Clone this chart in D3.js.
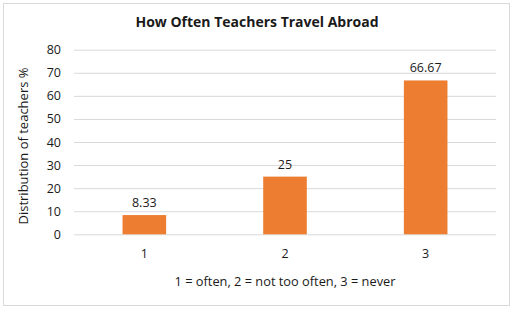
<!DOCTYPE html>
<html>
<head>
<meta charset="utf-8">
<script src="https://cdn.jsdelivr.net/npm/d3@7"></script>
<style>
	body { margin: 0; background: #fff; }
	text { font-family: "Open Sans", "Noto Sans", sans-serif; fill: #1a1a1a; }
</style>
</head>
<body>
<script>
const categories = ["1", "2", "3"];
const values = [8.33, 25, 66.67];
const valueLabels = ["8.33", "25", "66.67"];
const yTicks = [0, 10, 20, 30, 40, 50, 60, 70, 80];

function constructChart() {
	const width = 514;
	const height = 310;
	const margin = {top: 50, right: 18, bottom: 76, left: 74};

	const svg = d3.select("body")
		.append("svg")
		.attr("width", width)
		.attr("height", height);

	// chart border
	svg.append("rect")
		.attr("x", 3.5)
		.attr("y", 3.5)
		.attr("width", width - 8)
		.attr("height", height - 8)
		.attr("fill", "#fff")
		.attr("stroke", "#d9d9d9");

	const scaleX = d3.scaleBand()
		.domain(categories)
		.range([margin.left, width - margin.right])
		.paddingInner(0.69)
		.paddingOuter(0.345);

	const scaleY = d3.scaleLinear()
		.domain([0, 80])
		.range([height - margin.bottom + 0.3, margin.top - 0.3]);

	const axisY = d3.axisLeft(scaleY)
		.tickValues(yTicks)
		.tickSize(-(width - margin.left - margin.right))
		.tickPadding(13);

	const gY = svg.append("g")
		.attr("class", "scale-y")
		.attr("transform", `translate(${margin.left},0)`)
		.call(axisY);
	gY.select(".domain").remove();
	gY.selectAll("line").attr("stroke", "#d9d9d9").attr("stroke-width", 1);
	gY.selectAll("text").style("font-size", "12.5px").attr("fill", "#1a1a1a");

	const axisX = d3.axisBottom(scaleX).tickSize(0).tickPadding(15);
	const gX = svg.append("g")
		.attr("class", "scale-x")
		.attr("transform", `translate(0,${scaleY(0)})`)
		.call(axisX);
	gX.select(".domain").remove();
	gX.selectAll("text").style("font-size", "12.5px").attr("fill", "#1a1a1a");

	svg.selectAll(".bar")
		.data(values)
		.join("rect")
		.attr("class", "bar")
		.attr("x", (d, i) => scaleX(categories[i]))
		.attr("y", d => scaleY(d))
		.attr("width", scaleX.bandwidth())
		.attr("height", d => scaleY(0) - scaleY(d))
		.attr("fill", "#ed7d31");

	svg.selectAll(".value-label")
		.data(values)
		.join("text")
		.attr("class", "value-label")
		.attr("x", (d, i) => scaleX(categories[i]) + scaleX.bandwidth() / 2)
		.attr("y", d => scaleY(d) - 8)
		.attr("text-anchor", "middle")
		.style("font-size", "12.5px")
		.text((d, i) => valueLabels[i]);

	svg.append("text")
		.attr("x", 257)
		.attr("y", 27)
		.attr("text-anchor", "middle")
		.style("font-size", "14px")
		.style("font-weight", "bold")
		.text("How Often Teachers Travel Abroad");

	svg.append("text")
		.attr("x", 285)
		.attr("y", 286)
		.attr("text-anchor", "middle")
		.style("font-size", "12.8px")
		.text("1 = often, 2 = not too often, 3 = never");

	svg.append("text")
		.attr("transform", `translate(28,146) rotate(-90)`)
		.attr("text-anchor", "middle")
		.style("font-size", "13px")
		.text("Distribution of teachers %");
}

constructChart();
</script>
</body>
</html>
